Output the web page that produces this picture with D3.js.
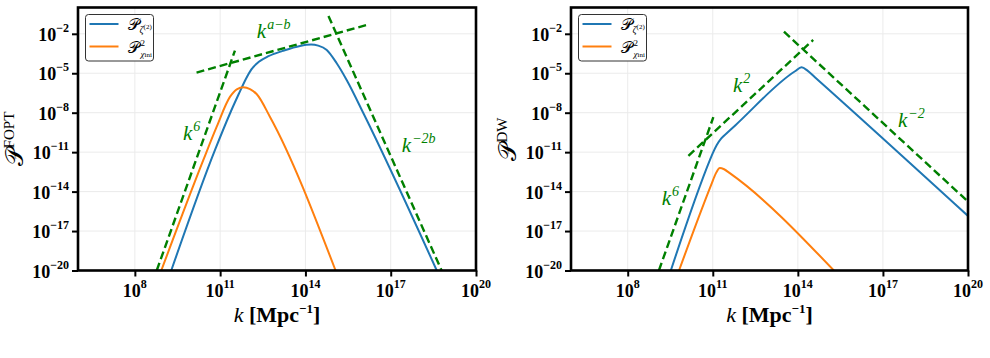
<!DOCTYPE html>
<html>
<head>
<meta charset="utf-8">
<script src="https://cdn.jsdelivr.net/npm/d3@7"></script>
<style>
  body { margin: 0; background: #fff; }
  svg { display: block; font-family: "Liberation Serif", "Times New Roman", serif; }
</style>
</head>
<body>
<svg id="fig" width="990" height="358"></svg>
<script>
// all values are [log10 k, log10 P]
const fopt_zeta = [[9.28,-20],[10.82,-10.83],[11.35,-8.04],[11.65,-6.6],[11.9,-5.45],[12.1,-4.7],[12.35,-4.15],
  [12.7,-3.7],[13.2,-3.3],[13.81,-2.92],[14.2,-2.82],[14.45,-2.90],[14.75,-3.23],[15.10,-4.24],[15.45,-5.51],
  [16.04,-8.04],[18.62,-20]];
const fopt_chi = [[8.93,-20],[10.41,-11.59],[10.88,-9.06],[11.35,-6.78],[11.6,-6.2],[11.81,-6.07],[12.05,-6.2],
  [12.29,-6.6],[12.75,-8.3],[15.06,-20]];
const fopt_k6 = [[8.77,-20],[11.52,-3.28]];
const fopt_kab = [[10.17,-4.95],[16.15,-1.33]];
const fopt_k2b = [[14.81,-0.65],[18.79,-20]];

const dw_zeta = [[9.52,-20],[10.9,-11.59],[11.0,-11.07],[11.14,-10.45],[11.3,-9.95],[11.5,-9.55],[11.8,-8.95],
  [13.9,-4.85],[14.13,-4.55],[14.35,-4.82],[14.6,-5.3],[20,-15.85]];
const dw_chi = [[9.81,-20],[10.95,-13.45],[11.1,-12.65],[11.25,-12.2],[11.4,-12.3],[11.6,-12.6],[15.27,-20]];
const dw_k6 = [[9.10,-20],[11.02,-8.34]];
const dw_k2 = [[10.14,-11.28],[14.54,-2.47]];
const dw_km2 = [[13.51,-1.84],[20,-14.76]];

const xTicks = [8, 11, 14, 17, 20];
const yTicks = [-2, -5, -8, -11, -14, -17, -20];

// slope labels: [log10 k, log10 P, exponent]
const fopt_notes = [[9.69,-10.07,"6"],[12.29,-2.34,"a\u2212b"],[17.39,-10.96,"\u22122b"]];
const dw_notes = [[9.20,-15.01,"6"],[11.71,-6.40,"2"],[17.53,-9.06,"\u22122"]];

var ctx = {top: 7.5, bottom: 270.5, BLUE: "#1f77b4", ORANGE: "#ff7f0e", GREEN: "#008000"};

var panels = [
  {left: 78, right: 476, ylab: "FOPT", zeta: fopt_zeta, chi: fopt_chi,
   guides: [fopt_k6, fopt_kab, fopt_k2b], notes: fopt_notes, labx: 23},
  {left: 571, right: 968, ylab: "DW", zeta: dw_zeta, chi: dw_chi,
   guides: [dw_k6, dw_k2, dw_km2], notes: dw_notes, labx: 516}
];

var svg = d3.select("#fig");
var P = "\u{1D4AB}";

panels.forEach(function(p, i) {
  var x = d3.scaleLog().domain([1e6, 1e20]).range([p.left, p.right]);
  var y = d3.scaleLog().domain([1e-20, 1]).range([ctx.bottom, ctx.top]);
  var g = svg.append("g");

  // grid
  g.selectAll("line.gx").data(xTicks).enter().append("line")
    .attr("x1", d => x(Math.pow(10, d))).attr("x2", d => x(Math.pow(10, d)))
    .attr("y1", ctx.top).attr("y2", ctx.bottom)
    .attr("stroke", "#ebebeb").attr("stroke-width", 1);
  g.selectAll("line.gy").data(yTicks).enter().append("line")
    .attr("y1", d => y(Math.pow(10, d))).attr("y2", d => y(Math.pow(10, d)))
    .attr("x1", p.left).attr("x2", p.right)
    .attr("stroke", "#ebebeb").attr("stroke-width", 1);

  g.append("clipPath").attr("id", "clip" + i)
    .append("rect").attr("x", p.left).attr("y", ctx.top)
    .attr("width", p.right - p.left).attr("height", ctx.bottom - ctx.top);

  var line = d3.line()
    .x(d => x(Math.pow(10, d[0])))
    .y(d => y(Math.pow(10, d[1])))
    .curve(d3.curveMonotoneX);

  var plot = g.append("g").attr("clip-path", "url(#clip" + i + ")");
  plot.append("path").datum(p.zeta).attr("d", line)
    .attr("fill", "none").attr("stroke", ctx.BLUE).attr("stroke-width", 2);
  plot.append("path").datum(p.chi).attr("d", line)
    .attr("fill", "none").attr("stroke", ctx.ORANGE).attr("stroke-width", 2);
  p.guides.forEach(s => {
    plot.append("path").datum(s).attr("d", line.curve(d3.curveLinear))
      .attr("fill", "none").attr("stroke", ctx.GREEN).attr("stroke-width", 2.4)
      .attr("stroke-dasharray", "8,4");
  });

  // slope notes
  p.notes.forEach(n => {
    var t = g.append("text")
      .attr("x", x(Math.pow(10, n[0]))).attr("y", y(Math.pow(10, n[1])))
      .attr("fill", ctx.GREEN).style("font-style", "italic");
    t.append("tspan").attr("font-size", 21).text("k");
    t.append("tspan").attr("font-size", 14).attr("dy", -9).attr("dx", 1).text(n[2]);
  });

  // axes
  var xAxis = d3.axisBottom(x).tickValues(xTicks.map(d => Math.pow(10, d)))
    .tickSize(6).tickSizeOuter(0).tickFormat("");
  var yAxis = d3.axisLeft(y).tickValues(yTicks.map(d => Math.pow(10, d)))
    .tickSize(6).tickSizeOuter(0).tickFormat("");

  g.append("g").attr("transform", "translate(0," + ctx.bottom + ")").call(xAxis)
    .call(a => a.select(".domain").remove())
    .call(a => a.selectAll(".tick line").attr("stroke-width", 2));
  g.append("g").attr("transform", "translate(" + p.left + ",0)").call(yAxis)
    .call(a => a.select(".domain").remove())
    .call(a => a.selectAll(".tick line").attr("stroke-width", 2));

  xTicks.forEach(d => {
    var t = g.append("text").attr("x", x(Math.pow(10, d))).attr("y", 297)
      .attr("text-anchor", "middle").attr("font-weight", "bold");
    t.append("tspan").attr("font-size", 18).text("10");
    t.append("tspan").attr("font-size", 12).attr("dy", -9).text(d);
  });
  yTicks.forEach(d => {
    var t = g.append("text").attr("x", p.left - 9).attr("y", y(Math.pow(10, d)) + 7)
      .attr("text-anchor", "end").attr("font-weight", "bold");
    t.append("tspan").attr("font-size", 18).text("10");
    t.append("tspan").attr("font-size", 12).attr("dy", -9).text("\u2212" + (-d));
  });

  // frame
  g.append("rect").attr("x", p.left).attr("y", ctx.top)
    .attr("width", p.right - p.left).attr("height", ctx.bottom - ctx.top)
    .attr("fill", "none").attr("stroke", "#000").attr("stroke-width", 2.6);

  // axis labels
  var xl = g.append("text").attr("x", (p.left + p.right) / 2).attr("y", 322)
    .attr("text-anchor", "middle").attr("font-size", 22);
  xl.append("tspan").style("font-style", "italic").text("k ");
  xl.append("tspan").attr("font-weight", "bold").text("[Mpc");
  xl.append("tspan").attr("font-weight", "bold").attr("font-size", 13).attr("dy", -9).text("\u22121");
  xl.append("tspan").attr("font-weight", "bold").attr("dy", 9).text("]");

  var yl = g.append("text")
    .attr("transform", "translate(" + p.labx + "," + (ctx.top + ctx.bottom) / 2 + ") rotate(-90)")
    .attr("text-anchor", "middle");
  yl.append("tspan").attr("font-size", 25).text(P);
  yl.append("tspan").attr("font-size", 15).attr("dy", -9).text(p.ylab);

  // legend
  var lg = g.append("g").attr("transform", "translate(" + (p.left + 7.5) + ",14.5)");
  lg.append("rect").attr("width", 68).attr("height", 46.5).attr("rx", 3)
    .attr("fill", "#fff").attr("stroke", "#333").attr("stroke-width", 1);
  [ctx.BLUE, ctx.ORANGE].forEach((c, j) => {
    lg.append("line").attr("x1", 4).attr("x2", 33).attr("y1", 9.5 + j * 22.5).attr("y2", 9.5 + j * 22.5)
      .attr("stroke", c).attr("stroke-width", 2);
  });
  var t1 = lg.append("text").attr("x", 42).attr("y", 15);
  t1.append("tspan").attr("font-size", 16).text(P);
  t1.append("tspan").attr("font-size", 10).attr("dy", 3).style("font-style", "italic").text("\u03b6");
  t1.append("tspan").attr("font-size", 7).attr("dy", -4).text("(2)");
  var t2 = lg.append("text").attr("x", 42).attr("y", 38);
  t2.append("tspan").attr("font-size", 16).text(P);
  lg.append("text").attr("x", 55).attr("y", 31).attr("font-size", 9).text("2");
  var t3 = lg.append("text").attr("x", 55).attr("y", 42).attr("font-size", 9);
  t3.append("tspan").style("font-style", "italic").text("\u03c7");
  t3.append("tspan").attr("font-size", 7).text("ini");
});
</script>
</body>
</html>
